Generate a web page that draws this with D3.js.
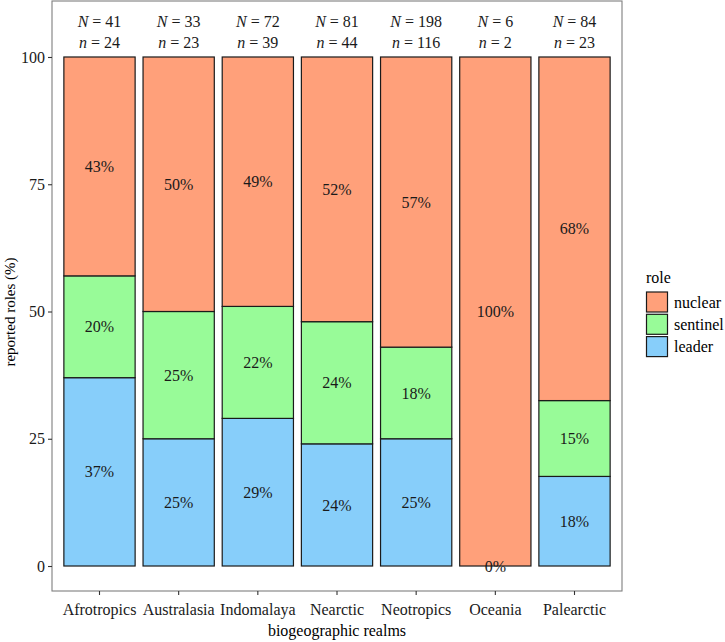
<!DOCTYPE html>
<html>
<head>
<meta charset="utf-8">
<script src="https://cdn.jsdelivr.net/npm/d3@7"></script>
<style>
  body { margin: 0; background: #fff; }
  svg { display: block; font-family: "Liberation Serif", "Times New Roman", serif; }
</style>
</head>
<body>
<svg id="chart" width="725" height="642"></svg>
<script>
const realms = ["Afrotropics", "Australasia", "Indomalaya", "Nearctic", "Neotropics", "Oceania", "Palearctic"];
const roles = ["leader", "sentinel", "nuclear"];
const legendOrder = ["nuclear", "sentinel", "leader"];
const leader   = [37, 25, 29, 24, 25, 0, 17.6];
const sentinel = [20, 25, 22, 24, 18, 0, 14.9];
const nuclear  = [43, 50, 49, 52, 57, 100, 67.5];
const bigN   = [41, 33, 72, 81, 198, 6, 84];
const smallN = [24, 23, 39, 44, 116, 2, 23];
const yTicks = [0, 25, 50, 75, 100];
const colors = { nuclear: "#FFA07A", sentinel: "#98FB98", leader: "#87CEFA" };

const svg = d3.select("#chart");
const panel = { left: 52, right: 622, top: 1, bottom: 591 };

const x = d3.scaleBand().domain(realms)
  .range([panel.left, panel.right]).paddingInner(0.1).paddingOuter(0.15);
const y = d3.scaleLinear().domain([-4.91, 111.0]).range([panel.bottom, panel.top]);

// panel background and border
svg.append("rect")
  .attr("x", panel.left).attr("y", panel.top)
  .attr("width", panel.right - panel.left).attr("height", panel.bottom - panel.top)
  .attr("fill", "#fff").attr("stroke", "#7f7f7f").attr("stroke-width", 1.1);

// stacked data
const table = realms.map((r, i) => ({ realm: r, leader: leader[i], sentinel: sentinel[i], nuclear: nuclear[i] }));
const stack = d3.stack().keys(roles)(table);

const g = svg.append("g");
stack.forEach(layer => {
  g.selectAll(null).data(layer).enter().append("rect")
    .attr("x", d => x(d.data.realm))
    .attr("width", x.bandwidth())
    .attr("y", d => y(d[1]))
    .attr("height", d => y(d[0]) - y(d[1]))
    .attr("fill", colors[layer.key])
    .attr("stroke", "#1a1a1a").attr("stroke-width", 1.2);
});

// percent labels
stack.forEach(layer => {
  g.selectAll(null).data(layer.filter(d => !(layer.key === "sentinel" && d[1] - d[0] === 0))).enter().append("text")
    .attr("x", d => x(d.data.realm) + x.bandwidth() / 2)
    .attr("y", d => y((d[0] + d[1]) / 2))
    .attr("dy", "0.35em")
    .attr("text-anchor", "middle")
    .attr("font-size", 16).attr("fill", "#1a1a1a")
    .text(d => Math.round(d[1] - d[0]) + "%");
});

// N / n labels
realms.forEach((r, i) => {
  const cx = x(r) + x.bandwidth() / 2;
  const t1 = svg.append("text").attr("x", cx).attr("y", y(106.9)).attr("dy", "0.35em")
    .attr("text-anchor", "middle").attr("font-size", 16).attr("fill", "#1a1a1a");
  t1.append("tspan").attr("font-style", "italic").text("N");
  t1.append("tspan").text(" = " + bigN[i]);
  const t2 = svg.append("text").attr("x", cx).attr("y", y(102.8)).attr("dy", "0.35em")
    .attr("text-anchor", "middle").attr("font-size", 16).attr("fill", "#1a1a1a");
  t2.append("tspan").attr("font-style", "italic").text("n");
  t2.append("tspan").text(" = " + smallN[i]);
});

// axes
const yAxis = svg.append("g").attr("transform", `translate(${panel.left},0)`)
  .call(d3.axisLeft(y).tickValues(yTicks).tickSize(4).tickPadding(3));
const xAxis = svg.append("g").attr("transform", `translate(0,${panel.bottom})`)
  .call(d3.axisBottom(x).tickSize(4).tickPadding(3));
[yAxis, xAxis].forEach(a => {
  a.select(".domain").remove();
  a.selectAll(".tick line").attr("stroke", "#333").attr("stroke-width", 1.1);
  a.selectAll(".tick text").attr("font-size", 16).attr("fill", "#1a1a1a")
    .attr("font-family", "Liberation Serif, Times New Roman, serif");
});
xAxis.selectAll(".tick text").attr("dy", "1.05em");

// axis titles
svg.append("text").attr("x", (panel.left + panel.right) / 2).attr("y", 636)
  .attr("text-anchor", "middle").attr("font-size", 16).attr("fill", "#000")
  .text("biogeographic realms");
svg.append("text").attr("transform", `translate(15,312) rotate(-90)`)
  .attr("text-anchor", "middle").attr("font-size", 15).attr("fill", "#000")
  .text("reported roles (%)");

// legend
const lg = svg.append("g").attr("transform", "translate(646,0)");
lg.append("text").attr("x", 0).attr("y", 283).attr("font-size", 16).attr("fill", "#000").text("role");
legendOrder.forEach((k, i) => {
  const yy = 292 + i * 22.3;
  lg.append("rect").attr("x", 0.5).attr("y", yy).attr("width", 21).attr("height", 20)
    .attr("fill", colors[k]).attr("stroke", "#1a1a1a").attr("stroke-width", 1.2);
  lg.append("text").attr("x", 28).attr("y", yy + 10).attr("dy", "0.35em")
    .attr("font-size", 16).attr("fill", "#000").text(k);
});
</script>
</body>
</html>
